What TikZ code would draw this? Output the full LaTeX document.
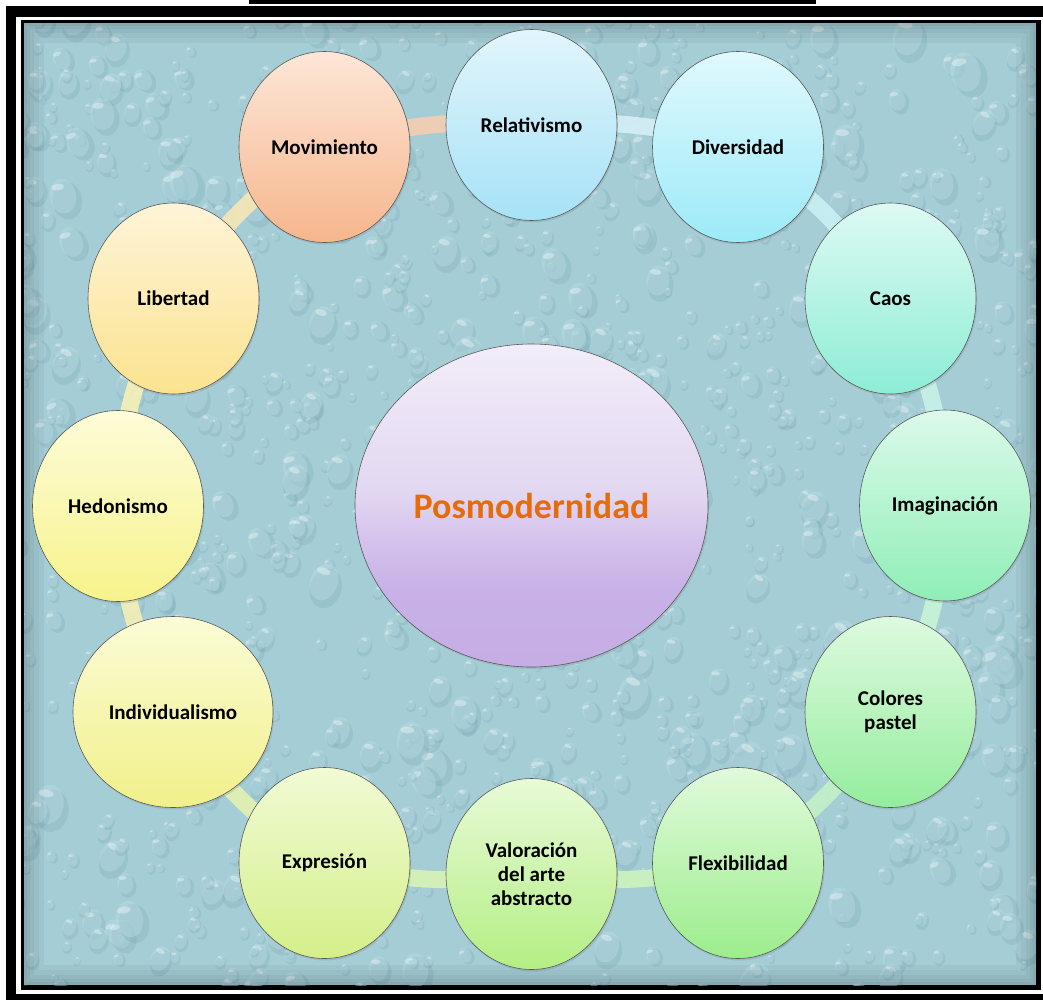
\documentclass[tikz,border=0pt]{standalone}
\usepackage{fontspec}
\setmainfont{Carlito}
\usetikzlibrary{shapes.geometric,shadows}

% water background
\definecolor{waterbase}{HTML}{A4CDD6}
\definecolor{dropshade}{HTML}{6F9EAB}
\definecolor{dropbody}{HTML}{B8DCE4}
% bubble gradients (top / bottom)
\definecolor{movT}{HTML}{FDE6D8}\definecolor{movB}{HTML}{F6B68C}
\definecolor{relT}{HTML}{E2F5FC}\definecolor{relB}{HTML}{A6E2F6}
\definecolor{divT}{HTML}{E0F9FD}\definecolor{divB}{HTML}{9CEAF8}
\definecolor{caoT}{HTML}{DDFAF3}\definecolor{caoB}{HTML}{8DEDD5}
\definecolor{imaT}{HTML}{DCFAEA}\definecolor{imaB}{HTML}{8FEEB7}
\definecolor{colT}{HTML}{DEFADF}\definecolor{colB}{HTML}{94ED9D}
\definecolor{flxT}{HTML}{E0FADB}\definecolor{flxB}{HTML}{9CED8C}
\definecolor{valT}{HTML}{E8FAD7}\definecolor{valB}{HTML}{B4EE84}
\definecolor{expT}{HTML}{F1FBD5}\definecolor{expB}{HTML}{D4EF8A}
\definecolor{indT}{HTML}{FBFCD6}\definecolor{indB}{HTML}{F1F08A}
\definecolor{hedT}{HTML}{FDFCD9}\definecolor{hedB}{HTML}{F7F38B}
\definecolor{libT}{HTML}{FEF4D8}\definecolor{libB}{HTML}{FBE38F}
% ring segments
\definecolor{bMov}{HTML}{F5CDB1}
\definecolor{bRel}{HTML}{D6EFF7}
\definecolor{bDiv}{HTML}{C8F0F5}
\definecolor{bCao}{HTML}{C6F2E7}
\definecolor{bIma}{HTML}{C8F4D9}
\definecolor{bCol}{HTML}{C4F1C8}
\definecolor{bFlx}{HTML}{CDF3BC}
\definecolor{bVal}{HTML}{D8F3B4}
\definecolor{bExp}{HTML}{E4F2B2}
\definecolor{bInd}{HTML}{F3F0B4}
\definecolor{bHed}{HTML}{F6F1B8}
\definecolor{bLib}{HTML}{F7E7B5}
% central ellipse
\definecolor{pTop}{HTML}{F2EDF9}
\definecolor{pMid}{HTML}{E2D7F1}
\definecolor{pLow}{HTML}{D3C1EC}
\definecolor{pBot}{HTML}{C6AEE5}
\definecolor{posorange}{HTML}{E46C0A}

\pgfdeclareverticalshading{posmod}{100bp}{color(0bp)=(pBot); color(25bp)=(pBot);
  color(37bp)=(pBot!85!pLow); color(44bp)=(pLow); color(52bp)=(pMid); color(75bp)=(pTop); color(100bp)=(pTop)}

\newcommand\bubfont{\fontsize{21}{24}\selectfont\bfseries}

\pgfdeclarelayer{back}
\pgfdeclarelayer{ring}
\pgfsetlayers{back,ring,main}

\tikzset{
  bub/.style 2 args={ellipse, draw=black!65, line width=.6pt,
    minimum width=171pt, minimum height=191pt, inner sep=0pt, align=center,
    top color=#1, bottom color=#2, font=\bubfont,
    drop shadow={shadow xshift=1.2pt, shadow yshift=-2pt, opacity=.25}},
  band/.style={line width=17pt, draw=#1, draw opacity=.9},
}

\begin{document}
\begin{tikzpicture}[x=1pt,y=-1pt]
\useasboundingbox (0,0) rectangle (1043,999);

% ---- nodes ----
\node[ellipse, draw=black!65, line width=.6pt, minimum width=353pt, minimum height=323pt,
  shade, shading=posmod, text=posorange, font=\fontsize{36}{40}\selectfont\bfseries,
  drop shadow={shadow xshift=1.2pt, shadow yshift=-2pt, opacity=.25}]
  (pos) at (531.5,505.5) {Posmodernidad};

\node[bub={movT}{movB}] (mov) at (324.5,147) {Movimiento};
\node[bub={relT}{relB}] (rel) at (531.5,125) {Relativismo};
\node[bub={divT}{divB}] (div) at (738,147) {Diversidad};
\node[bub={caoT}{caoB}] (caos) at (890.5,298.5) {Caos};
\node[bub={imaT}{imaB}] (imag) at (945,505.5) {Imaginación};
\node[bub={colT}{colB}] (col) at (890.5,712) {Colores\\pastel};
\node[bub={flxT}{flxB}] (flex) at (738,863) {Flexibilidad};
\node[bub={valT}{valB}] (val) at (531.5,874) {Valoración\\del arte\\abstracto};
\node[bub={expT}{expB}] (expr) at (324.5,863) {Expresión};
\node[bub={indT}{indB}, minimum width=200pt] (indiv) at (173,712) {Individualismo};
\node[bub={hedT}{hedB}] (hedo) at (118,506) {Hedonismo};
\node[bub={libT}{libB}] (lib) at (173.5,298.5) {Libertad};

% ---- ring joining the bubbles ----
\begin{pgfonlayer}{ring}
\draw[band=bMov] (mov.center) to[bend left=10] (rel.center);
\draw[band=bRel] (rel.center) to[bend left=10] (div.center);
\draw[band=bDiv] (div.center) to[bend left=15, looseness=.87] (caos.center);
\draw[band=bCao] (caos.center) to[bend left=15, looseness=.87] (imag.center);
\draw[band=bIma] (imag.center) to[bend left=15, looseness=.87] (col.center);
\draw[band=bCol] (col.center) to[bend left=15, looseness=.87] (flex.center);
\draw[band=bFlx] (flex.center) to[bend left=10] (val.center);
\draw[band=bVal] (val.center) to[bend left=10] (expr.center);
\draw[band=bExp] (expr.center) to[bend left=15, looseness=.87] (indiv.center);
\draw[band=bInd] (indiv.center) to[bend left=15, looseness=.87] (hedo.center);
\draw[band=bHed] (hedo.center) to[bend left=15, looseness=.87] (lib.center);
\draw[band=bLib] (lib.center) to[bend left=15, looseness=.87] (mov.center);
\end{pgfonlayer}

% ---- frame and water-drop backdrop ----
\begin{pgfonlayer}{back}
\begin{scope}
\clip (0,0) rectangle (1043,999);
\fill[white] (0,0) rectangle (1043,999);
\fill[black] (249,0) rectangle (816,4);
\fill[black] (6,6) rectangle (1060,1010);
\fill[white] (16,17) rectangle (1050,994);
\fill[black] (20.5,20) rectangle (1041,990);
\fill[waterbase] (24,23) rectangle (1036,985);
\begin{scope}
\clip (24,23) rectangle (1036,985);
\pgfmathsetseed{2718}
\foreach \i in {1,...,1300}{
  \pgfmathsetmacro\dropx{14+1032*rnd}
  \pgfmathsetmacro\dropy{13+982*rnd}
  \pgfmathsetmacro\dropr{3.5+14*rnd*rnd}
  \pgfmathsetmacro\droprot{-30+60*rnd}
  \begin{scope}[shift={(\dropx,\dropy)}, rotate=\droprot]
  \fill[dropshade, opacity=.22] (.25*\dropr,.35*\dropr) ellipse ({\dropr} and {1.3*\dropr});
  \fill[dropbody, opacity=.45] (0,0) ellipse ({.9*\dropr} and {1.2*\dropr});
  \fill[white, opacity=.35] (-.25*\dropr,-.65*\dropr) ellipse ({.45*\dropr} and {.22*\dropr});
  \end{scope}
}
% soft darkening along the inner edge
\foreach \w in {40,30,20,12,6}{
  \draw[black, opacity=.035, line width=\w pt] (24,23) rectangle (1036,985);
}
\end{scope}
\end{scope}
\end{pgfonlayer}
\end{tikzpicture}
\end{document}
